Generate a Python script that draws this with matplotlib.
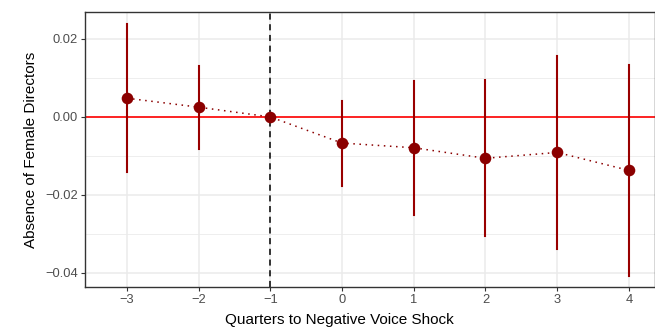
import matplotlib
matplotlib.use("Agg")
import matplotlib.pyplot as plt
import numpy as np

plt.rcParams['font.family'] = ['Liberation Sans', 'DejaVu Sans']

# event-study estimates and 95% intervals
quarters = [-3, -2, -1, 0, 1, 2, 3, 4]
estimate = [0.0048, 0.0025, 0.0, -0.0067, -0.0079, -0.0106, -0.0091, -0.0137]
ci_low = [-0.0140, -0.0083, 0.0, -0.0176, -0.0251, -0.0305, -0.0338, -0.0407]
ci_high = [0.0238, 0.0131, 0.0, 0.0042, 0.0093, 0.0095, 0.0157, 0.0133]
yticks = [-0.04, -0.02, 0.00, 0.02]
ytick_labels = ['\u22120.04', '\u22120.02', '0.00', '0.02']
xtick_labels = ['\u22123', '\u22122', '\u22121', '0', '1', '2', '3', '4']

fig = plt.figure(figsize=(6.55, 3.27), dpi=100)
ax = fig.add_axes([0.1298, 0.1223, 0.8702, 0.841])

ax.set_xlim(-3.585, 4.365)
ax.set_ylim(-0.0436, 0.0269)

# grid like theme_bw
for y in [-0.03, -0.01, 0.01]:
    ax.axhline(y, color='#ebebeb', lw=0.6, zorder=0)
for y in yticks:
    ax.axhline(y, color='#ebebeb', lw=1.1, zorder=0)
for x in quarters:
    ax.axvline(x, color='#ebebeb', lw=1.1, zorder=0)

ax.axhline(0, color='red', lw=1.2, zorder=1)
ax.axvline(-1, color='black', lw=1.1, ls=(0, (4, 3)), zorder=2)

# error bars (skip the reference quarter)
for q, lo, hi in zip(quarters, ci_low, ci_high):
    if hi != lo:
        ax.plot([q, q], [lo, hi], color='#990000', lw=1.5, zorder=3)

ax.plot(quarters, estimate, color='#8b0000', lw=1.1, ls=(0, (1, 3)), zorder=3)
ax.scatter(quarters, estimate, s=70, color='#8b0000', zorder=4, linewidths=0)

ax.set_xticks(quarters)
ax.set_xticklabels(xtick_labels)
ax.set_yticks(yticks)
ax.set_yticklabels(ytick_labels)
ax.tick_params(colors='#333333', labelcolor='#4d4d4d', labelsize=9.3, length=3, width=0.8, pad=2)

for s in ax.spines.values():
    s.set_color('#333333')
    s.set_linewidth(1.0)

ax.set_xlabel('Quarters to Negative Voice Shock', fontsize=11)
ax.xaxis.set_label_coords(0.4456, -0.094)
ax.set_ylabel('Absence of Female Directors', fontsize=11, labelpad=5)

fig.savefig('out.png', dpi=100)
